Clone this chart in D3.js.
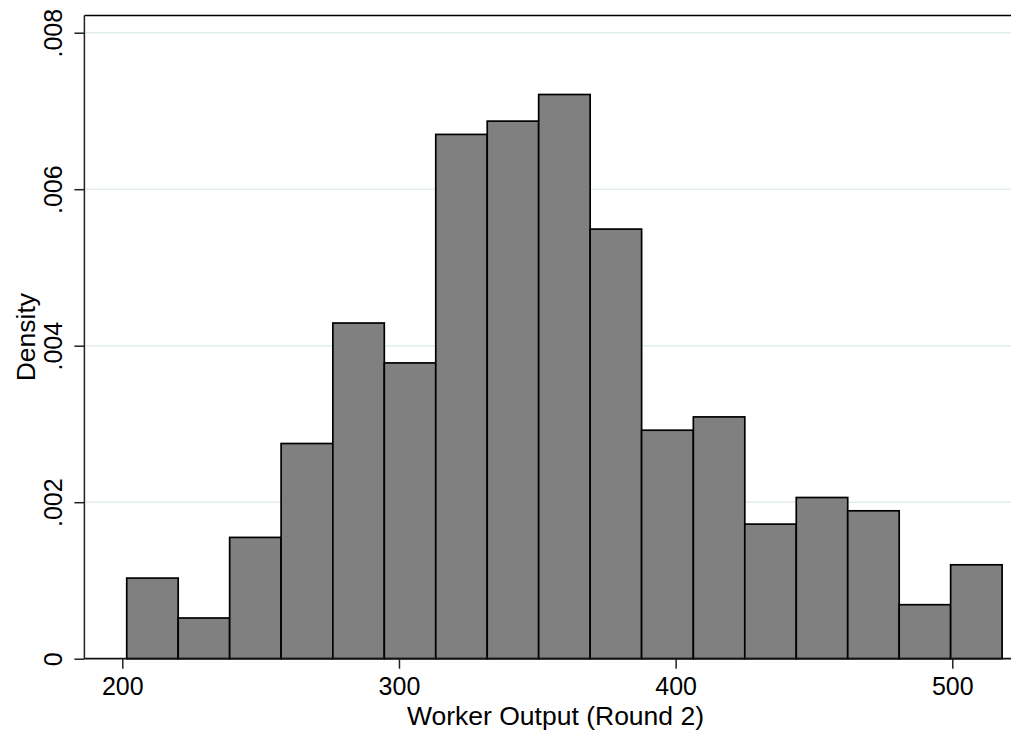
<!DOCTYPE html>
<html>
<head>
<meta charset="utf-8">
<script src="https://cdn.jsdelivr.net/npm/d3@7"></script>
<style>
  body { margin: 0; background: #fff; }
  svg { display: block; font-family: "Liberation Sans", Arial, sans-serif; }
</style>
</head>
<body>
<div id="chart"></div>
<script>
// histogram bins (lower edges, last value is the upper edge of the last bin)
const binEdges = [201.6, 220.2, 238.8, 257.4, 276.1, 294.7, 313.3, 331.9, 350.5,
                  369.1, 387.7, 406.4, 425.0, 443.6, 462.2, 480.8, 499.4, 518.0];
// density of each bin
const densities = [0.00103, 0.00052, 0.00155, 0.00275, 0.00429, 0.00378, 0.00670,
                   0.00687, 0.00721, 0.00549, 0.00292, 0.00309, 0.00172, 0.00206,
                   0.00189, 0.00069, 0.00120];
const xTicks = [200, 300, 400, 500];
const yTicks = [0, 0.002, 0.004, 0.006, 0.008];
const yTickLabels = ["0", ".002", ".004", ".006", ".008"];

const width = 1011, height = 736;

const svg = d3.select("#chart")
    .append("svg")
    .attr("width", width)
    .attr("height", height);

// scales
const x = d3.scaleLinear().domain([200, 500]).range([122.3, 952.3]);
const y = d3.scaleLinear().domain([0, 0.008]).range([658.7, 32.7]);

const plotLeft = x(186.3), plotTop = y(0.00822), plotBottom = y(0);

// gridlines
svg.append("g")
    .selectAll("line")
    .data(yTicks.filter(d => d > 0))
    .join("line")
    .attr("x1", plotLeft)
    .attr("x2", width)
    .attr("y1", d => y(d))
    .attr("y2", d => y(d))
    .style("stroke", "#e2edf0")
    .style("stroke-width", 1.6);

// bars
const bins = densities.map((d, i) => ({x0: binEdges[i], x1: binEdges[i + 1], value: d}));
svg.append("g")
    .selectAll("rect")
    .data(bins)
    .join("rect")
    .attr("x", d => x(d.x0))
    .attr("y", d => y(d.value))
    .attr("width", d => x(d.x1) - x(d.x0))
    .attr("height", d => y(0) - y(d.value))
    .style("fill", "#808080")
    .style("stroke", "#000")
    .style("stroke-width", 1.7);

// top frame line
svg.append("line")
    .attr("x1", plotLeft).attr("x2", width)
    .attr("y1", plotTop).attr("y2", plotTop)
    .style("stroke", "#000")
    .style("stroke-width", 1.5);

// y axis
const yAxis = svg.append("g")
    .attr("transform", `translate(${plotLeft}, 0)`)
    .call(d3.axisLeft(y).tickValues(yTicks).tickSize(10).tickPadding(0)
        .tickFormat((d, i) => yTickLabels[i]));
yAxis.select(".domain")
    .attr("d", `M0,${plotTop}V${plotBottom}`)
    .style("stroke", "#222")
    .style("stroke-width", 1.5);
yAxis.selectAll(".tick line").style("stroke", "#222").style("stroke-width", 1.5);
yAxis.selectAll(".tick text")
    .attr("x", null).attr("dy", null)
    .attr("transform", "translate(-22, 0) rotate(-90)")
    .attr("text-anchor", "middle")
    .style("font-family", "'Liberation Sans', Arial, sans-serif")
    .style("font-size", "25px")
    .style("fill", "#000");

// x axis
const xAxis = svg.append("g")
    .attr("transform", `translate(0, ${plotBottom})`)
    .call(d3.axisBottom(x).tickValues(xTicks).tickSize(10).tickPadding(9)
        .tickFormat(d3.format("d")));
xAxis.select(".domain")
    .attr("d", `M${plotLeft},0H${width}`)
    .style("stroke", "#111")
    .style("stroke-width", 1.8);
xAxis.selectAll(".tick line").style("stroke", "#222").style("stroke-width", 1.5);
xAxis.selectAll(".tick text")
    .style("font-family", "'Liberation Sans', Arial, sans-serif")
    .style("font-size", "25px")
    .style("fill", "#000");

// axis titles
svg.append("text")
    .attr("x", 555.5)
    .attr("y", 725)
    .attr("text-anchor", "middle")
    .style("font-size", "26.5px")
    .text("Worker Output (Round 2)");

svg.append("text")
    .attr("transform", `translate(35, ${(plotTop + plotBottom) / 2}) rotate(-90)`)
    .attr("text-anchor", "middle")
    .style("font-size", "26.5px")
    .text("Density");
</script>
</body>
</html>
